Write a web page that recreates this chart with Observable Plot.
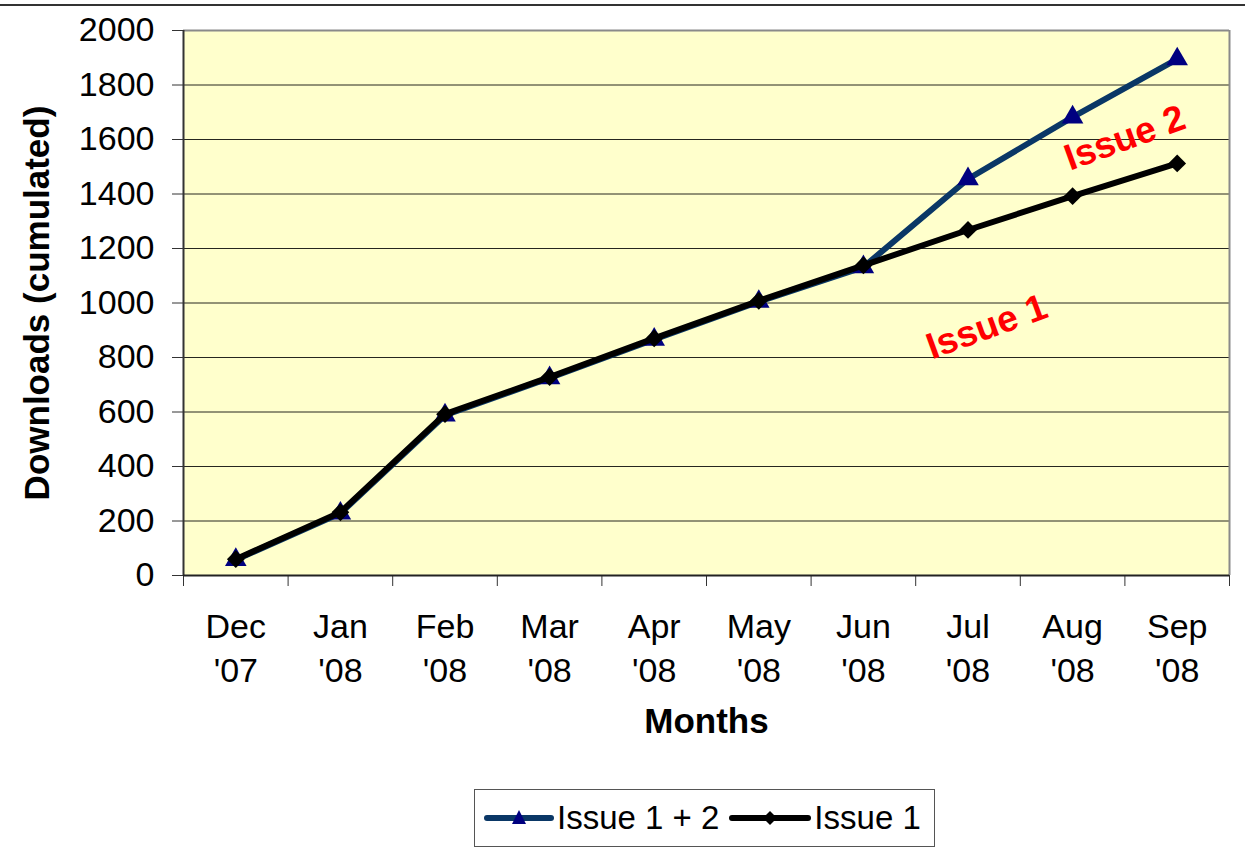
<!DOCTYPE html>
<html>
<head>
<meta charset="utf-8">
<script src="https://cdn.jsdelivr.net/npm/d3@7"></script>
<script src="https://cdn.jsdelivr.net/npm/@observablehq/plot@0.6"></script>
<style>
  html, body { margin: 0; padding: 0; background: white; }
  #wrap { position: relative; width: 1245px; height: 850px; font-family: "Liberation Sans", Arial, sans-serif; }
  #topline { position: absolute; left: 0; top: 4px; width: 1245px; height: 2px; background: #333; }
  #chart { position: absolute; left: 0; top: 0; }
  #legend { position: absolute; left: 474px; top: 789px; width: 461px; height: 58px; border: 1.5px solid #555; box-sizing: border-box;
            display: flex; align-items: center; font-size: 33px; color: #000; }
  #legend .item { display: flex; align-items: center; }
  #legend svg { display: block; }
</style>
</head>
<body>
<div id="wrap">
  <div id="topline"></div>
  <div id="chart"></div>
  <div id="legend"></div>
</div>
<script>
// ---- data ----
const months = ["Dec\n'07", "Jan\n'08", "Feb\n'08", "Mar\n'08", "Apr\n'08", "May\n'08", "Jun\n'08", "Jul\n'08", "Aug\n'08", "Sep\n'08"];
const issue12 = [58, 228, 588, 725, 866, 1005, 1132, 1455, 1682, 1895];
const issue1  = [60, 232, 592, 728, 870, 1008, 1138, 1268, 1392, 1512];
const yTicks = [0, 200, 400, 600, 800, 1000, 1200, 1400, 1600, 1800, 2000];
const seriesNames = ["Issue 1 + 2", "Issue 1"];
const annotLabels = ["Issue 2", "Issue 1"];
const annotMonthPos = [8.5, 7.18];
const annotValue = [1605, 912];

// ---- build ----
const rows12 = months.map((m, i) => ({i, v: issue12[i]}));
const rows1 = months.map((m, i) => ({i, v: issue1[i]}));
const annots = annotLabels.map((t, k) => ({t, x: annotMonthPos[k], y: annotValue[k]}));
const boundaries = d3.range(-0.5, months.length, 1);

const blue = "#0A3766";
const navy = "#000080";
const font = "Liberation Sans, Arial, sans-serif";

const chart = Plot.plot({
  width: 1245,
  height: 780,
  marginLeft: 183,
  marginRight: 16,
  marginTop: 30,
  marginBottom: 205,
  style: {fontFamily: font, fontSize: "34px", color: "#000", background: "transparent", overflow: "visible"},
  x: {domain: [-0.5, months.length - 0.5]},
  y: {domain: [0, 2000]},
  marks: [
    Plot.frame({fill: "#FFFFCC", stroke: null}),
    Plot.gridY(yTicks.filter(d => d > 0 && d < 2000), {stroke: "#000", strokeOpacity: 0.85, strokeWidth: 1}),
    Plot.ruleY([2000], {stroke: "#8a8a8a", strokeWidth: 2}),
    Plot.ruleX([months.length - 0.5], {stroke: "#8a8a8a", strokeWidth: 2}),
    Plot.axisY({ticks: yTicks, tickSize: 11, tickPadding: 18, tickFormat: d => String(d), label: null, stroke: "#333", fontSize: 34}),
    Plot.axisX({ticks: d3.range(months.length), tickSize: 0, tickPadding: 32, tickFormat: i => months[i], lineHeight: 1.28, label: null, fontSize: 34}),
    Plot.axisX({ticks: boundaries, tickSize: 11, tickFormat: () => "", label: null, stroke: "#333"}),
    Plot.ruleX([-0.5], {stroke: "#333", strokeWidth: 2}),
    Plot.ruleY([0], {stroke: "#222", strokeWidth: 2}),
    Plot.line(rows12, {x: "i", y: "v", stroke: blue, strokeWidth: 6}),
    Plot.dot(rows12, {x: "i", y: "v", symbol: "triangle", fill: navy, r: 8}),
    Plot.line(rows1, {x: "i", y: "v", stroke: "#000", strokeWidth: 6}),
    Plot.dot(rows1, {x: "i", y: "v", symbol: "diamond2", fill: "#000", stroke: null, r: 8}),
    Plot.text(annots, {x: "x", y: "y", text: "t", fill: "#FF0000", fontWeight: "bold", fontSize: 37, fontFamily: font, rotate: -20}),
    Plot.text(["Downloads (cumulated)"], {frameAnchor: "left", textAnchor: "middle", dx: -146, rotate: -90, fontWeight: "bold", fontSize: 35, fontFamily: font}),
    Plot.text(["Months"], {frameAnchor: "bottom", dy: 157, fontWeight: "bold", fontSize: 35, fontFamily: font})
  ]
});
document.getElementById("chart").appendChild(chart);

// ---- legend ----
const legend = document.getElementById("legend");
const legendStyles = [
  {stroke: blue, marker: "triangle", fill: navy, w: 70, ml: 9},
  {stroke: "#000", marker: "diamond", fill: "#000", w: 82, ml: 10}
];
seriesNames.forEach((name, k) => {
  const st = legendStyles[k];
  const item = document.createElement("div");
  item.className = "item";
  item.style.marginLeft = st.ml + "px";
  const ns = "http://www.w3.org/2000/svg";
  const svg = document.createElementNS(ns, "svg");
  svg.setAttribute("width", st.w);
  svg.setAttribute("height", "30");
  const ln = document.createElementNS(ns, "line");
  ln.setAttribute("x1", "3"); ln.setAttribute("x2", st.w - 3);
  ln.setAttribute("y1", "15"); ln.setAttribute("y2", "15");
  ln.setAttribute("stroke", st.stroke); ln.setAttribute("stroke-width", "6");
  ln.setAttribute("stroke-linecap", "round");
  svg.appendChild(ln);
  const c = st.w / 2;
  const p = document.createElementNS(ns, "path");
  if (st.marker === "triangle") p.setAttribute("d", `M${c},7 L${c + 7},21 L${c - 7},21 Z`);
  else p.setAttribute("d", `M${c},8 L${c + 7},15 L${c},22 L${c - 7},15 Z`);
  p.setAttribute("fill", st.fill);
  svg.appendChild(p);
  item.appendChild(svg);
  const span = document.createElement("span");
  span.textContent = name;
  span.style.marginLeft = "3px";
  item.appendChild(span);
  legend.appendChild(item);
});
</script>
</body>
</html>
